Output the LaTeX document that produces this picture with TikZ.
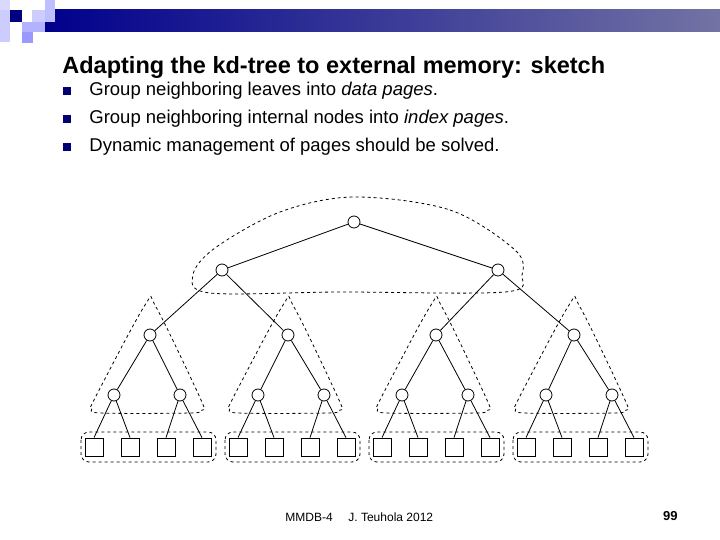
\documentclass[tikz,border=0pt]{standalone}
\usepackage{fontspec}
\setmainfont{Liberation Sans}
\begin{document}
\begin{tikzpicture}[x=1pt,y=-1pt,line width=0.8pt,
  inode/.style={circle,draw,minimum size=12pt,inner sep=0pt},
  leaf/.style={rectangle,draw,minimum size=18pt,inner sep=0pt},
  grp/.style={draw,dashed,rounded corners=8pt},
  bul/.style={fill=blue!45!black,minimum size=8pt,inner sep=0pt}]
\useasboundingbox (0,0) rectangle (720,540);
\fill[white] (0,0) rectangle (720,540);
% header decoration
\shade[left color=blue!55!black,right color=blue!35!black!55!white] (45,10) rectangle (720,32);
\fill[blue!15] (0,0) rectangle (10,10);
\fill[blue!20] (0,10) rectangle (10,42);
\fill[blue!50!black] (10,10) rectangle (22,22);
\fill[blue!20] (32,10) rectangle (45,22);
\fill[blue!25] (45,0) rectangle (55,22);
\fill[blue!30] (22,22) rectangle (45,32);
\fill[blue!40] (22,32) rectangle (33,43);
% title and bullets
\node[anchor=base west,inner sep=0pt,font=\bfseries\fontsize{23.5}{27}\selectfont] (title) at (62,74) {Adapting the kd-tree to external memory: sketch};
\foreach \y/\t [count=\i] in {96/{Group neighboring leaves into \textit{data pages}.},124/{Group neighboring internal nodes into \textit{index pages}.},152/{Dynamic management of pages should be solved.}}{
  \node[bul] (b\i) at (67,\y-5) {};
  \node[anchor=base west,font=\fontsize{18.5}{22}\selectfont,inner sep=0pt] (t\i) at (89,\y) {\t};
}
% tree
\node[inode] (r) at (354,222) {};
\node[inode] (a) at (222,270) {};
\node[inode] (b) at (498,270) {};
\foreach \n/\x in {c1/150,c2/288,c3/436,c4/574} \node[inode] (\n) at (\x,335) {};
\foreach \n/\x in {d1/114,d2/180,d3/258,d4/324,d5/402,d6/468,d7/546,d8/612} \node[inode] (\n) at (\x,395) {};
\foreach \i [evaluate=\i as \x using 94+36*(\i-1)] in {1,...,16} \node[leaf] (l\i) at (\x,447) {};
\draw (r)--(a) (r)--(b) (a)--(c1) (a)--(c2) (b)--(c3) (b)--(c4);
\draw (c1)--(d1) (c1)--(d2) (c2)--(d3) (c2)--(d4) (c3)--(d5) (c3)--(d6) (c4)--(d7) (c4)--(d8);
\foreach \d [count=\k] in {d1,d2,d3,d4,d5,d6,d7,d8}{
  \pgfmathtruncatemacro\p{2*\k-1}\pgfmathtruncatemacro\q{2*\k}
  \draw (\d)--(l\p.north) (\d)--(l\q.north);}
% leaf groups
\foreach \k in {0,1,2,3}
  \draw[grp] (81+144*\k,432) rectangle (216+144*\k,462);
% triangles around subtrees
\foreach \x in {150,288,436,574}
  \draw[dashed] plot[smooth cycle,tension=0.5] coordinates {(\x-5,305) (\x+6,307) (\x+51,400) (\x+52,410) (\x+40,413) (\x-50,413) (\x-58,408) (\x-55,398)};
% top blob
\draw[dashed] plot[smooth cycle,tension=0.55] coordinates {(354,197) (450,210) (515,250) (522,275) (505,292) (340,292) (210,293) (193,275) (215,248) (280,212)};
% footer
\node[anchor=base west,inner sep=0pt,font=\fontsize{12}{14}\selectfont] (f1) at (285,521) {MMDB-4};
\node[anchor=base west,inner sep=0pt,font=\fontsize{12}{14}\selectfont] (f2) at (348,521) {J. Teuhola 2012};
\node[anchor=base east,inner sep=0pt,font=\bfseries\fontsize{13}{15}\selectfont] (f3) at (678,520) {99};
\end{tikzpicture}
\end{document}
